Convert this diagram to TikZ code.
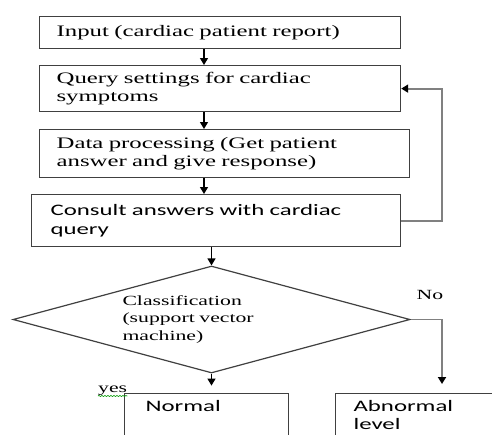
\documentclass[tikz,border=0pt]{standalone}
\usepackage{fontspec}
\setmainfont{Liberation Serif}[FakeStretch=1.55]
\newfontfamily\wideSans{Carlito}[FakeStretch=1.55]
\usetikzlibrary{shapes.geometric, arrows.meta, decorations.pathmorphing}

\begin{document}
\begin{tikzpicture}[x=1pt, y=-1pt,
	flowbox/.style={draw=black!75, line width=1.2pt, rectangle, anchor=north west, align=left, inner ysep=0pt, font=\fontsize{16}{18.5}\selectfont},
	sansbox/.style={flowbox, font=\wideSans\fontsize{16}{19}\selectfont},
	flow/.style={draw=black, line width=1.2pt, -{Triangle[length=7pt, width=8pt]}},
	back/.style={draw=black!50, line width=1.8pt, -{Triangle[length=7pt, width=8pt, color=black]}}]
				\fill[white] (0,0) rectangle (492,434);
				\useasboundingbox (0,0) rectangle (492,434);
				\clip (0,0) rectangle (492,434);
				\coordinate (spine) at (204,0);
				\coordinate (loop) at (442,0);
				\coordinate (noend) at (442,384);
				\node[flowbox, inner xsep=17pt, text width=327pt, minimum height=32pt] (input) at (39,16) {Input (cardiac patient report)};
				\node[flowbox, inner xsep=17pt, text width=327pt, minimum height=46pt] (query) at (39,65) {Query settings for cardiac\\symptoms};
				\node[flowbox, inner xsep=17pt, text width=336pt, minimum height=48pt] (data) at (39,129) {Data processing (Get patient\\answer and give response)};
				\node[sansbox, inner xsep=19pt, text width=331pt, minimum height=52pt] (consult) at (31,194) {Consult answers with cardiac\\query};
				\node[draw=black!75, line width=1.2pt, diamond, shape aspect=3.7, minimum width=397pt, minimum height=107pt, inner sep=0pt, text width=178pt, align=left, font=\fontsize{14}{17.5}\selectfont] (classify) at (211.5,319.5) {Classification\\(support vector\\machine)};
				\coordinate (yesend) at ([yshift=-12pt]classify.south);
				\node[sansbox, inner xsep=21pt, inner ysep=7pt, text width=122pt, text depth=60pt] (normal) at (124,393) {Normal};
				\node[sansbox, inner xsep=18pt, inner ysep=7pt, text width=140pt, text depth=60pt, font=\wideSans\fontsize{16}{18}\selectfont] (abnormal) at (335,393) {Abnormal\\level};
				\node[font=\fontsize{14}{17}\selectfont, inner sep=0pt] (nolabel) at (430,295) {No};
				\node[font=\fontsize{14}{17}\selectfont, inner sep=0pt, anchor=base west] (yeslabel) at (98,392) {yes};
				\draw[green!60!black, line width=0.6pt, decorate, decoration={snake, amplitude=0.6pt, segment length=3pt}] ([yshift=-4pt]yeslabel.base west) -- ([yshift=-4pt]yeslabel.base east);
				\draw[flow] (input.south -| spine) -- (query.north -| spine);
				\draw[flow] (query.south -| spine) -- (data.north -| spine);
				\draw[flow] (data.south -| spine) -- (consult.north -| spine);
				\draw[flow] (consult.south -| classify.north) -- (classify.north);
				\draw[back] (consult.east) -| (loop |- query.east) -- (query.east);
				\draw[back] (classify.east) -| (noend);
				\draw[flow] (classify.south) -- (yesend);
\end{tikzpicture}
\end{document}
